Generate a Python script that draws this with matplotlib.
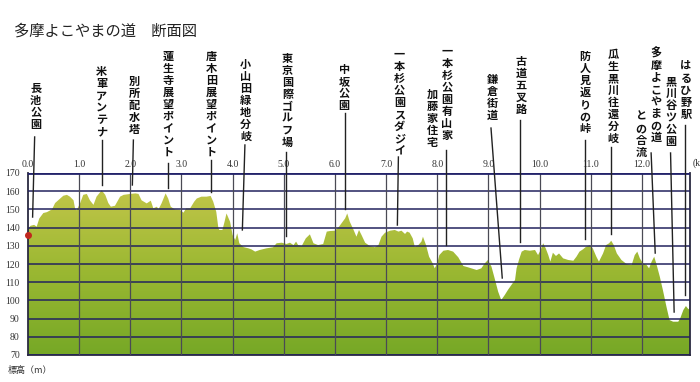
import numpy as np
import matplotlib
matplotlib.use("Agg")
import matplotlib.pyplot as plt
from matplotlib.colors import LinearSegmentedColormap

plt.rcParams['font.family'] = ['Noto Sans CJK JP', 'DejaVu Sans']

# Elevation profile (distance in km, elevation in m)
dist_km = [0.0, 0.05, 0.12, 0.17, 0.22, 0.3, 0.37, 0.47, 0.53, 0.63, 0.69, 0.76, 0.82,
           0.89, 0.92, 0.95, 1.02, 1.08, 1.15, 1.21, 1.28, 1.34, 1.44, 1.51, 1.57, 1.62,
           1.70, 1.80, 1.87, 2.0, 2.1, 2.16, 2.22, 2.32, 2.40, 2.45, 2.52, 2.55, 2.61,
           2.69, 2.74, 2.79, 2.87, 2.97, 3.04, 3.09, 3.17, 3.25, 3.30, 3.39, 3.49, 3.57,
           3.62, 3.68, 3.72, 3.74, 3.80, 3.84, 3.88, 3.95, 4.0, 4.05, 4.09, 4.13, 4.21,
           4.31, 4.37, 4.44, 4.53, 4.66, 4.79, 4.86, 4.96, 5.05, 5.12, 5.19, 5.24, 5.28,
           5.35, 5.43, 5.51, 5.58, 5.67, 5.77, 5.84, 5.90, 6.0, 6.08, 6.15, 6.20, 6.24,
           6.29, 6.32, 6.36, 6.42, 6.47, 6.52, 6.59, 6.68, 6.78, 6.85, 6.91, 6.98, 7.08,
           7.17, 7.24, 7.30, 7.37, 7.41, 7.46, 7.52, 7.56, 7.63, 7.69, 7.72, 7.78, 7.84,
           7.91, 7.95, 8.0, 8.04, 8.12, 8.21, 8.31, 8.41, 8.51, 8.60, 8.77, 8.86, 8.93,
           8.99, 9.06, 9.13, 9.19, 9.25, 9.32, 9.38, 9.45, 9.52, 9.55, 9.60, 9.65, 9.71,
           9.81, 9.91, 9.97, 10.02, 10.07, 10.12, 10.17, 10.21, 10.26, 10.32, 10.38,
           10.46, 10.56, 10.66, 10.72, 10.78, 10.85, 10.91, 10.98, 11.04, 11.11, 11.16,
           11.24, 11.30, 11.36, 11.40, 11.45, 11.51, 11.60, 11.70, 11.80, 11.86, 11.91,
           11.96, 12.02, 12.09, 12.14, 12.19, 12.24, 12.28, 12.35, 12.41, 12.48, 12.54,
           12.61, 12.71, 12.75, 12.81, 12.86, 12.91, 12.94]
elev_m = [139.5, 141, 141.5, 140.5, 145, 148, 148.5, 150, 153.5, 156, 157.5, 158, 157,
          155, 150.5, 149.5, 153.5, 158, 158.5, 155, 152.5, 157, 160.5, 158, 153.5, 151.5,
          152, 157, 158, 158.5, 158.8, 158.5, 155, 153.3, 154.8, 150.6, 151.5, 150, 153.3,
          158.8, 156, 151.5, 150, 149.7, 148.2, 150.6, 150.6, 154.3, 156, 157, 157, 157.4,
          154.3, 148.7, 140, 138.7, 138.7, 143, 147.8, 143.2, 135.9, 133.2, 136.9, 131.4, 129.3,
          128.6, 128, 126.8, 127.7, 128.6, 129.2, 131.4, 131.7, 131, 131.7, 130.4, 132.3, 130.4,
          129.9, 134.1, 136.3, 131.4, 130.4, 131, 137.8, 138.1, 138.3, 140.5, 143.2, 145.1, 147.8,
          143.2, 141.4, 139, 135, 138.7, 135.9, 131.7, 129.9, 129.2, 130.4, 135, 137.2, 138.3,
          138.7, 137.8, 138.3, 136.5, 137.8, 137.2, 134.1, 129.5, 130.4, 132.3, 135, 130.4, 124,
          120.4, 117.6, 120.4, 124.9, 127.3, 127.7, 126.8, 123.7, 118.9, 118.2, 116.7, 117.6, 120.4,
          122.2, 118.5, 111.2, 104.8, 100.2, 103, 105.7, 108.5, 111.2, 117.6, 122.6, 126.8, 127.7,
          127.3, 127.7, 124.9, 127.7, 131.4, 128.6, 124.9, 121.3, 126.2, 124.4, 125.8,
          123.1, 122.2, 121.8, 124, 126.8, 128.1, 129.5, 130.4, 128.6, 124, 121.3,
          125.8, 130.4, 131.4, 132.8, 130.4, 125.8, 122.2, 120, 119.5, 124.9, 126.8,
          123.1, 120.4, 119.5, 117.6, 121.3, 124, 120.4, 113, 105.7, 96.5, 89.2,
          88.3, 88.3, 90.2, 94.7, 96.9, 95.1, 96]

x_ticks = [0, 1, 2, 3, 4, 5, 6, 7, 8, 9, 10, 11, 12]
x_tick_labels = ['0.0', '1.0', '2.0', '3.0', '4.0', '5.0', '6.0', '7.0', '8.0', '9.0',
                 '10.0', '11.0', '12.0']
y_ticks = [70, 80, 90, 100, 110, 120, 130, 140, 150, 160, 170]

# Place names (one column each; the second column is drawn to the left)
place_names = ['長池公園', '米軍アンテナ', '別所配水塔', '蓮生寺展望ポイント', '唐木田展望ポイント',
               '小山田緑地分岐', '東京国際ゴルフ場', '中坂公園', '一本杉公園スダジイ',
               '一本杉公園有山家', '鎌倉街道', '古道五叉路', '防人見返りの峠',
               '瓜生黒川往還分岐', '多摩よこやまの道', '黒川谷ツ公園', 'はるひ野駅']
second_lines = {'一本杉公園有山家': '加藤家住宅', '多摩よこやまの道': 'との合流'}

# layout: text x, text top, leader line (x top, y top, x bottom, y bottom) in data units
text_x = [0.15, 1.44, 2.08, 2.74, 3.58, 4.25, 5.07, 6.18, 7.26, 8.19, 9.07, 9.64,
          10.89, 11.44, 12.28, 12.57, 12.86]
text_top = [220.0, 229.3, 223.8, 237.6, 237.6, 233.2, 236.5, 230.4, 238.7, 240.3, 224.9,
            234.8, 237.6, 238.7, 239.2, 223.8, 232.1]
lead_x0 = [0.13, 1.44, 2.06, 2.74, 3.58, 4.24, 5.05, 6.20, 7.24, 8.17, 9.05, 9.62,
           10.89, 11.40, 12.18, 12.56, 12.84]
lead_y0 = [189.8, 188.1, 188.1, 175.5, 177.1, 185.4, 181.5, 203.0, 178.8, 182.6, 194.7,
           199.1, 188.1, 184.3, 181.0, 181.0, 196.4]
lead_x1 = [0.09, 1.44, 2.04, 2.74, 3.58, 4.19, 5.05, 6.20, 7.22, 8.17, 9.27, 9.62,
           10.89, 11.40, 12.26, 12.63, 12.84]
lead_y1 = [145.8, 163.4, 163.4, 161.8, 159.6, 138.7, 135.4, 150.2, 141.4, 130.4, 112.3,
           132.1, 133.7, 136.5, 126.0, 93.6, 103.0]
second_x = {'一本杉公園有山家': 7.90, '多摩よこやまの道': 11.98}
second_top = {'一本杉公園有山家': 216.7, '多摩よこやまの道': 204.6}

x_end = 12.94

fig = plt.figure(figsize=(7.0, 3.82), dpi=100)
ax = fig.add_axes([28 / 700, 1 - 355 / 382, 662 / 700, 182 / 382])

# gradient filled profile
poly = ax.fill_between(dist_km, elev_m, 70, color='none', lw=0)
cmap = LinearSegmentedColormap.from_list('terrain_fill', ['#76a826', '#9bb832', '#c3c64a'])
grad = np.linspace(0, 1, 256).reshape(-1, 1)
im = ax.imshow(grad, extent=[0, x_end, 70, 163], origin='lower', cmap=cmap,
               aspect='auto', zorder=1)
im.set_clip_path(poly.get_paths()[0], transform=ax.transData)

ax.set_xlim(0, x_end)
ax.set_ylim(70, 170)

# grid
for y in y_ticks:
    ax.axhline(y, color='#23235e', lw=1.1, zorder=3)
for x in x_ticks[1:]:
    ax.axvline(x, color='#4a4a55', lw=0.9, zorder=3)
ax.axhline(170, color='#23236a', lw=2.0, zorder=4)

for side in ['left', 'right', 'bottom']:
    ax.spines[side].set_color('#2a2a40')
    ax.spines[side].set_linewidth(1.3)
ax.spines['top'].set_visible(False)

ax.xaxis.tick_top()
ax.set_xticks(x_ticks)
ax.set_xticklabels(x_tick_labels, fontsize=7, family='Liberation Serif', color='#333333')
ax.set_yticks(y_ticks)
ax.set_yticklabels([str(v) for v in y_ticks], fontsize=7, family='Liberation Serif',
                   color='#333333')
ax.tick_params(axis='x', length=0, pad=3)
ax.tick_params(axis='y', length=0, pad=6)

# start marker
ax.plot([0], [136], 'o', color='#c0281e', ms=4, clip_on=False, zorder=6)

# place labels and leader lines
for i, name in enumerate(place_names):
    ax.text(text_x[i], text_top[i], '\n'.join(name), ha='center', va='top',
            fontsize=8, fontweight='bold', linespacing=0.9, color='#111111',
            clip_on=False, zorder=6)
    if name in second_lines:
        ax.text(second_x[name], second_top[name], '\n'.join(second_lines[name]),
                ha='center', va='top', fontsize=8, fontweight='bold', linespacing=0.9,
                color='#111111', clip_on=False, zorder=6)
    ax.plot([lead_x0[i], lead_x1[i]], [lead_y0[i], lead_y1[i]], color='#222222',
            lw=1.0, clip_on=False, zorder=5)

fig.text(14 / 700, 1 - 31 / 382, '多摩よこやまの道　断面図', fontsize=11, va='center',
         ha='left', color='#222222')
fig.text(8 / 700, 1 - 371 / 382, '標高（m）', fontsize=6.5, va='center', ha='left',
         color='#333333')
fig.text(693 / 700, 1 - 163 / 382, '(km)', fontsize=7, va='center', ha='left',
         family='Liberation Serif', color='#333333')

fig.savefig('out.png', dpi=100, facecolor='white')
